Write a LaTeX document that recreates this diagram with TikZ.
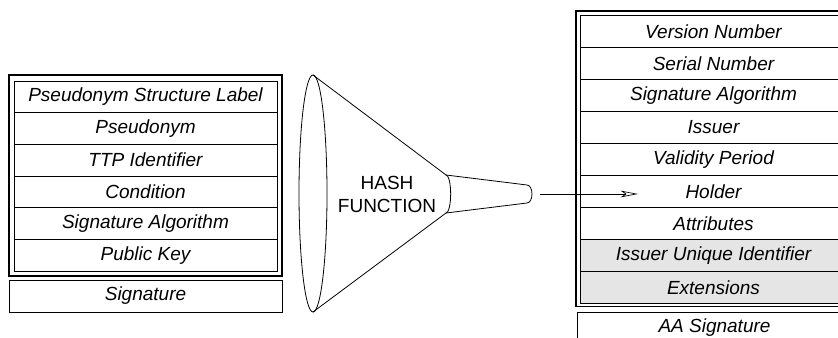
\documentclass[tikz,border=0pt]{standalone}
\usepackage{fontspec}
\setsansfont{Liberation Sans}
\usetikzlibrary{positioning,calc,arrows.meta}
\definecolor{optgray}{gray}{0.9}

\begin{document}
\begin{tikzpicture}[x=0.75pt, y=-0.75pt, line width=0.6pt,
                    field/.style={rectangle, draw, inner sep=0pt, outer sep=0pt,
                                  font=\sffamily\itshape\fontsize{14.25}{17}\selectfont},
                    pfield/.style={field, minimum width=197.25pt, minimum height=23.75pt},
                    afield/.style={field, minimum width=199.5pt, minimum height=24pt},
                    optional/.style={fill=optgray},
                    frame/.style={draw, line width=0.9pt},
                    %%funnel/.style={draw, line width=0.8pt},
                    ]
\useasboundingbox (0,0) rectangle (838,338);

% pseudonym structure
\node[pfield] (psl) at (145.5,96.8) {Pseudonym Structure Label};
\node[pfield, below=0pt of psl] (pseudonym) {Pseudonym};
\node[pfield, below=0pt of pseudonym] (ttp) {TTP Identifier};
\node[pfield, below=0pt of ttp] (condition) {Condition};
\node[pfield, below=0pt of condition] (psigalg) {Signature Algorithm};
\node[pfield, below=0pt of psigalg] (pubkey) {Public Key};
\draw[frame] ($(psl.north west)+(-5,-6)$) rectangle ($(pubkey.south east)+(5,5)$);
\node[field, minimum width=204.75pt, minimum height=24pt, anchor=north west] (psig)
  at ($(pubkey.south west)+(-5,9)$) {Signature};

% hash funnel
\draw (313,193.5) ellipse [x radius=10.5pt, y radius=88.9pt];
\draw (313,75) -- (446,175)
  arc [start angle=90, end angle=-90, x radius=3.5pt, y radius=14.25pt] -- (313,312);
\draw (446,175) -- (527,185)
  arc [start angle=90, end angle=-90, x radius=3.75pt, y radius=6.75pt] -- (446,213);
\coordinate (spout) at (532,194);
\node[font=\sffamily\fontsize{14.25}{17}\selectfont, align=center] (hash) at (387,194.5) {HASH\\FUNCTION};

% attribute certificate
\node[afield] (version) at (713.5,31.5) {Version Number};
\node[afield, below=0pt of version] (serial) {Serial Number};
\node[afield, below=0pt of serial] (asigalg) {Signature Algorithm};
\node[afield, below=0pt of asigalg] (issuer) {Issuer};
\node[afield, below=0pt of issuer] (validity) {Validity Period};
\node[afield, below=0pt of validity] (holder) {Holder};
\node[afield, below=0pt of holder] (attributes) {Attributes};
\node[afield, optional, below=0pt of attributes] (uid) {Issuer Unique Identifier};
\node[afield, optional, below=0pt of uid] (extensions) {Extensions};
\draw[frame] ($(version.north west)+(-4.5,-4.5)$) rectangle ($(extensions.south east)+(4.5,3)$);
\node[field, minimum width=206.25pt, minimum height=24pt, anchor=north west] (aasig)
  at ($(extensions.south west)+(-3.5,8.5)$) {AA Signature};

\draw[line width=0.5pt, -{Stealth[open, length=13pt, width=5pt, inset=3.5pt]}]
  ($(spout)+(8,0)$) -- ($(spout -| holder.west)+(57.5,0)$);
\end{tikzpicture}
\end{document}
